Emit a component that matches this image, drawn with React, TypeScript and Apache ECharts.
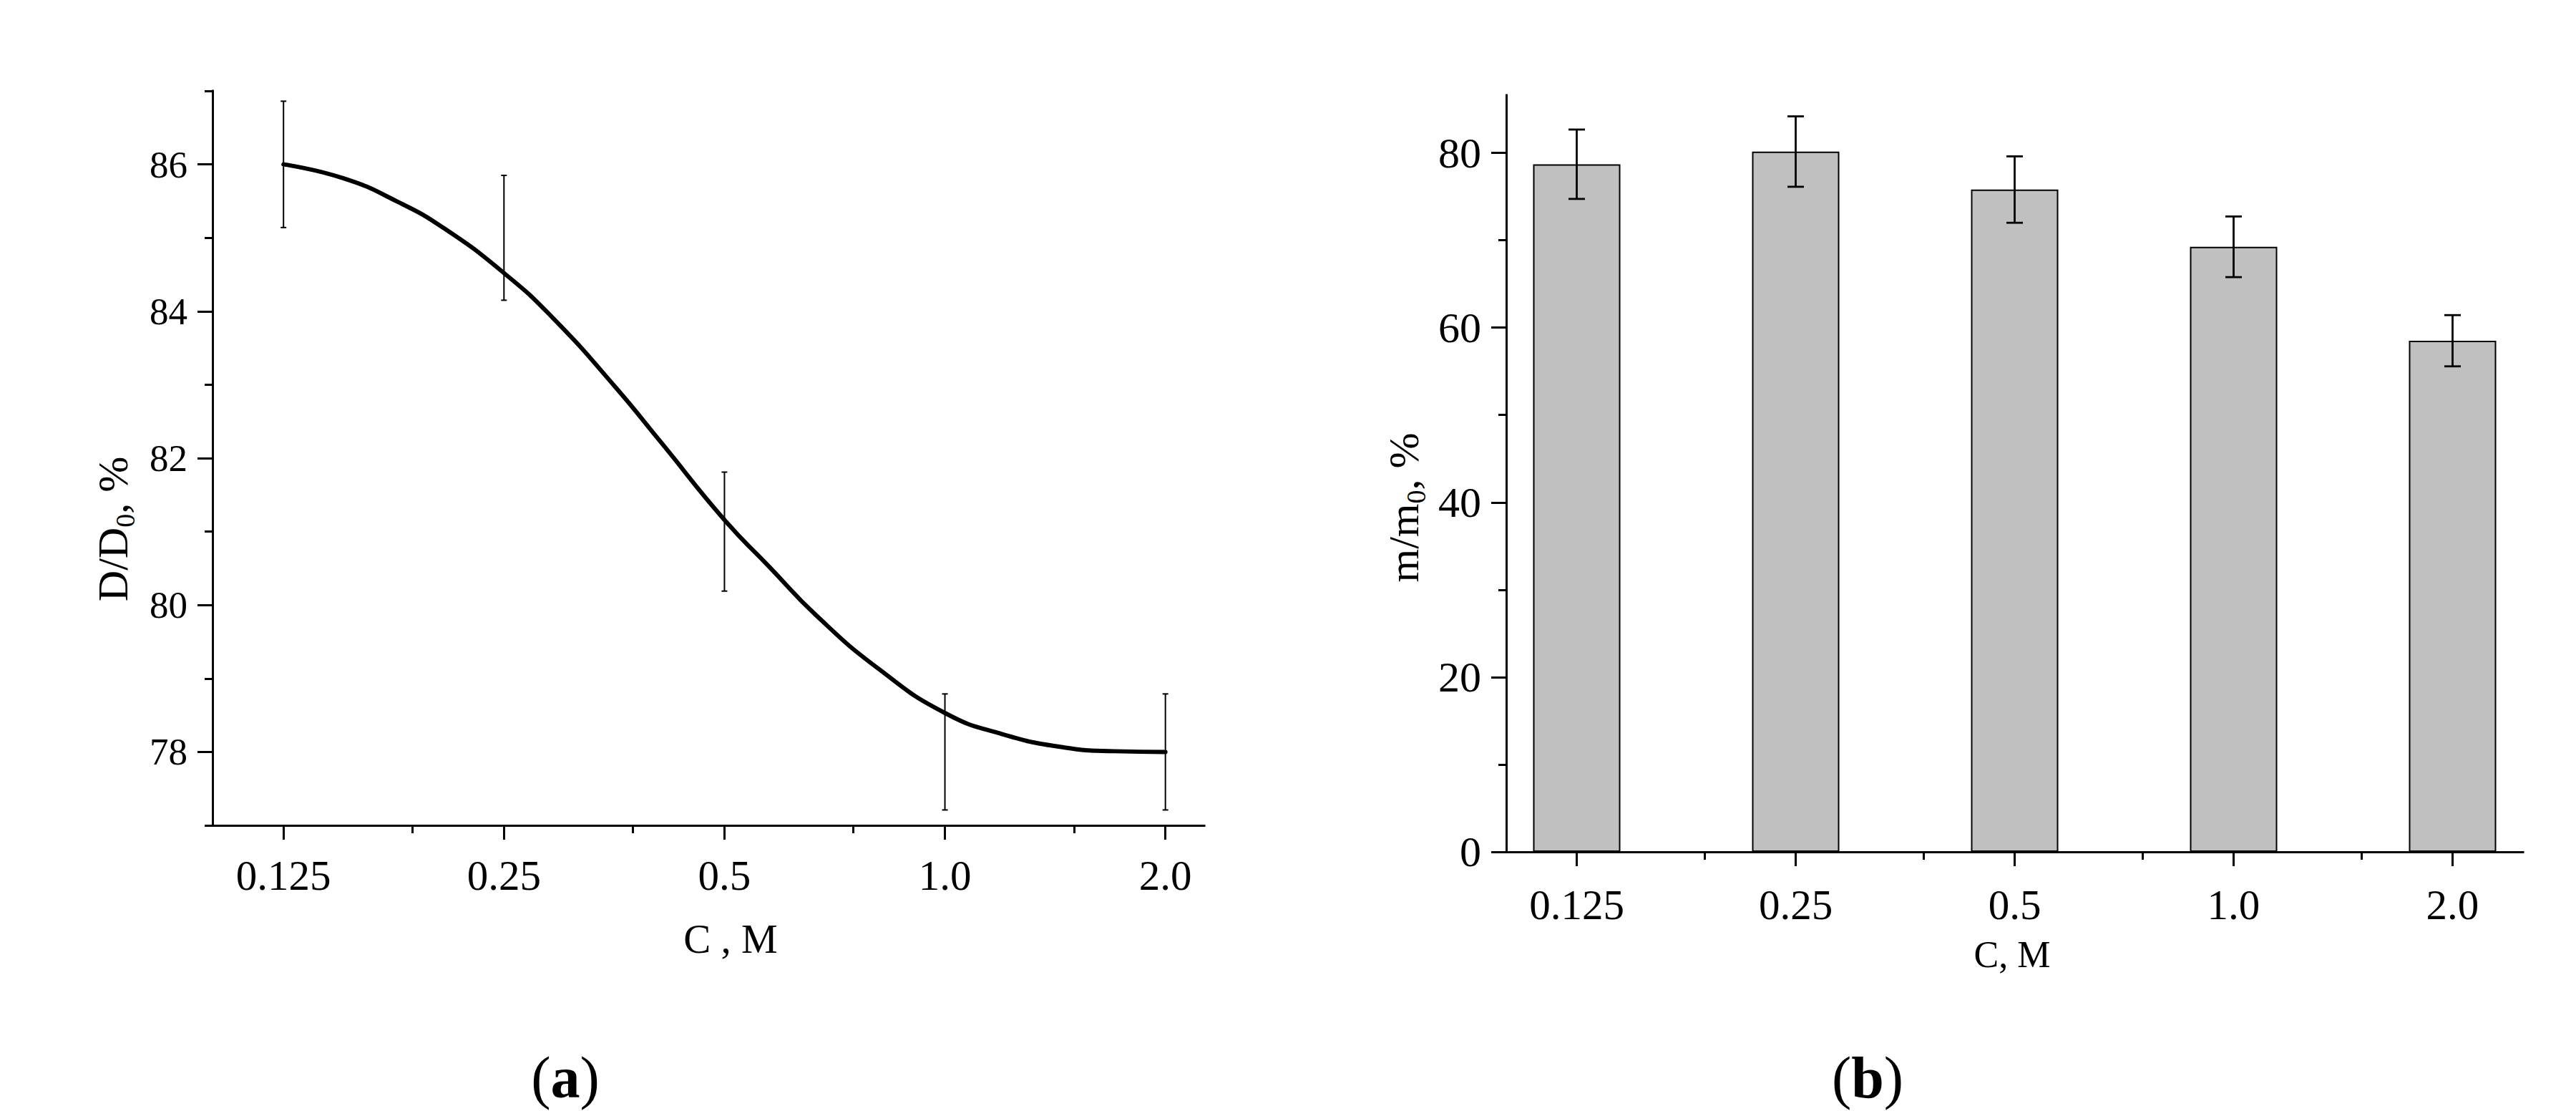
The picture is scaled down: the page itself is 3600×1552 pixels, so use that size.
import React, { useEffect, useRef } from "react";
import * as echarts from "echarts";

// ---------- data ----------
const concLabels = ["0.125", "0.25", "0.5", "1.0", "2.0"];
const concValues = [0.125, 0.25, 0.5, 1.0, 2.0];
const minorConc = [0.1875, 0.375, 0.75, 1.5];

// (a) measured points (error bars)
const dMean = [86.0, 85.0, 81.0, 78.0, 78.0];
const dErr = [0.86, 0.85, 0.81, 0.79, 0.79];
// (a) fitted curve
const curveC = [0.125, 0.151, 0.179, 0.207, 0.25, 0.2915, 0.354, 0.41, 0.5, 0.577, 0.667, 0.812, 1.0, 1.2, 1.456, 1.7, 2.0];
const curveD = [86.0, 85.81, 85.49, 85.13, 84.52, 83.91, 82.98, 82.21, 81.16, 80.51, 79.86, 79.13, 78.53, 78.24, 78.06, 78.01, 78.0];

const aMajorY = [78, 80, 82, 84, 86];
const aMinorY = [77, 79, 81, 83, 85, 87];

// (b) bars
const mValues = [78.7, 80.15, 75.8, 69.25, 58.5];
const mErr = [3.97, 4.03, 3.8, 3.47, 2.93];
const bMajorY = [0, 20, 40, 60, 80];
const bMinorY = [10, 30, 50, 70];

const FONT = '"Liberation Serif", "Times New Roman", serif';

function labelFor(v: number) {
  let best = 0;
  for (let i = 0; i < concValues.length; i++) {
    if (Math.abs(concValues[i] - v) < Math.abs(concValues[best] - v)) best = i;
  }
  return concLabels[best];
}

function errRender(capHalf: number, width: number) {
  return (params: any, api: any) => {
    const x = api.value(0);
    const lo = api.value(1);
    const hi = api.value(2);
    const pHi = api.coord([x, hi]);
    const pLo = api.coord([x, lo]);
    const style = { stroke: "#000", lineWidth: width };
    return {
      type: "group",
      children: [
        { type: "line", shape: { x1: pHi[0], y1: pHi[1], x2: pLo[0], y2: pLo[1] }, style },
        { type: "line", shape: { x1: pHi[0] - capHalf, y1: pHi[1], x2: pHi[0] + capHalf, y2: pHi[1] }, style },
        { type: "line", shape: { x1: pLo[0] - capHalf, y1: pLo[1], x2: pLo[0] + capHalf, y2: pLo[1] }, style },
      ],
    };
  };
}

const axisLine = (show: boolean) => ({
  show,
  onZero: false,
  lineStyle: { color: "#000", width: 3, cap: "square" },
});

function mainX(grid: number, max: number, margin: number) {
  return {
    type: "log",
    logBase: 2,
    gridIndex: grid,
    min: 0.1,
    max,
    axisLine: axisLine(true),
    axisTick: { show: true, customValues: concValues, length: 20, lineStyle: { color: "#000", width: 3 } },
    axisLabel: {
      show: true,
      customValues: concValues,
      formatter: (v: number) => labelFor(v),
      margin,
      fontSize: 59,
      fontFamily: FONT,
      color: "#000",
    },
    splitLine: { show: false },
    minorTick: { show: false },
  };
}

function minorX(grid: number, max: number) {
  return {
    type: "log",
    logBase: 2,
    gridIndex: grid,
    min: 0.1,
    max,
    axisLine: axisLine(false),
    axisTick: { show: true, customValues: minorConc, length: 11, lineStyle: { color: "#000", width: 3 } },
    axisLabel: { show: false },
    splitLine: { show: false },
  };
}

function mainY(grid: number, min: number, max: number, ticks: number[], fontSize: number) {
  return {
    type: "value",
    gridIndex: grid,
    min,
    max,
    axisLine: axisLine(true),
    axisTick: { show: true, customValues: ticks, length: 21, lineStyle: { color: "#000", width: 3 } },
    axisLabel: { show: true, customValues: ticks, margin: 35, fontSize, fontFamily: FONT, color: "#000" },
    splitLine: { show: false },
  };
}

function minorY(grid: number, min: number, max: number, ticks: number[]) {
  return {
    type: "value",
    gridIndex: grid,
    min,
    max,
    axisLine: axisLine(false),
    axisTick: { show: true, customValues: ticks, length: 11, lineStyle: { color: "#000", width: 3 } },
    axisLabel: { show: false },
    splitLine: { show: false },
  };
}

function rotTitle(x: number, y: number, main1: string, sub: string, main2: string) {
  return {
    type: "text",
    x,
    y,
    rotation: Math.PI / 2,
    style: {
      text: `{n|${main1}}{s|${sub}}{n|${main2}}`,
      align: "center",
      verticalAlign: "middle",
      textAlign: "center",
      textVerticalAlign: "middle",
      fill: "#000",
      rich: {
        n: { fontSize: 60, fontFamily: FONT, lineHeight: 72, fill: "#000" },
        s: { fontSize: 38, fontFamily: FONT, lineHeight: 38, verticalAlign: "bottom", fill: "#000" },
      },
    },
  };
}

function plainText(x: number, y: number, text: string, fontSize: number) {
  return {
    type: "text",
    x,
    y,
    style: {
      text,
      fontSize,
      fontFamily: FONT,
      fill: "#000",
      align: "center",
      verticalAlign: "middle",
      textAlign: "center",
      textVerticalAlign: "middle",
    },
  };
}

function panelLabel(x: number, y: number, letter: string) {
  return {
    type: "text",
    x,
    y,
    style: {
      text: `{p|(}{b|${letter}}{p|)}`,
      align: "center",
      verticalAlign: "middle",
      textAlign: "center",
      textVerticalAlign: "middle",
      fill: "#000",
      rich: {
        p: { fontSize: 82, fontFamily: FONT, fill: "#000" },
        b: { fontSize: 82, fontFamily: FONT, fontWeight: "bold", fill: "#000" },
      },
    },
  };
}

export default function App() {
  const ref = useRef<HTMLDivElement>(null);
  useEffect(() => {
    if (!ref.current) return;
    const chart = echarts.init(ref.current, undefined, { renderer: "svg" });
    const gridA = { left: 297, top: 127, width: 1386, height: 1026 };
    const gridB = { left: 2105, top: 133, width: 1421, height: 1057 };
    chart.setOption({
      animation: false,
      backgroundColor: "#fff",
      textStyle: { fontFamily: FONT },
      grid: [gridA, gridA, gridB, gridB].map((g) => ({ ...g, containLabel: false, show: false })),
      xAxis: [mainX(0, 2.26, 40), minorX(1, 2.26), mainX(2, 2.5, 44), minorX(3, 2.5)],
      yAxis: [
        mainY(0, 77, 87, aMajorY, 53),
        minorY(1, 77, 87, aMinorY),
        mainY(2, 0, 86.6, bMajorY, 60),
        minorY(3, 0, 86.6, bMinorY),
      ],
      series: [
        {
          type: "line",
          xAxisIndex: 0,
          yAxisIndex: 0,
          data: curveC.map((c, i) => [c, curveD[i]]),
          showSymbol: false,
          smooth: 0.5,
          lineStyle: { color: "#000", width: 6, cap: "round" },
          z: 3,
        },
        {
          type: "custom",
          xAxisIndex: 0,
          yAxisIndex: 0,
          data: concValues.map((c, i) => [c, dMean[i] - dErr[i], dMean[i] + dErr[i]]),
          encode: { x: 0, y: [1, 2] },
          renderItem: errRender(4, 2),
          z: 4,
        },
        {
          type: "bar",
          xAxisIndex: 2,
          yAxisIndex: 2,
          data: concValues.map((c, i) => [c, mValues[i]]),
          barWidth: 122,
          itemStyle: { color: "#c0c0c0", borderColor: "#000", borderWidth: 2 },
          z: 2,
        },
        {
          type: "custom",
          xAxisIndex: 2,
          yAxisIndex: 2,
          data: concValues.map((c, i) => [c, mValues[i] - mErr[i], mValues[i] + mErr[i]]),
          encode: { x: 0, y: [1, 2] },
          renderItem: errRender(11.5, 2.8),
          z: 4,
        },
      ],
      graphic: [
        rotTitle(158, 739, "D/D", "0", ", %"),
        rotTitle(1962, 709, "m/m", "0", ", %"),
        plainText(1021, 1311, "C , M", 57),
        plainText(2812, 1333, "C, M", 52),
        panelLabel(790, 1505, "a"),
        panelLabel(2610, 1505, "b"),
      ],
    });
    return () => chart.dispose();
  }, []);
  return (
    <div
      ref={ref}
      style={{ position: "absolute", left: 0, top: 0, width: 3600, height: 1552, background: "#fff" }}
    />
  );
}
